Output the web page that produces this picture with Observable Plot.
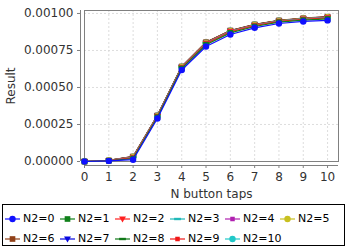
<!DOCTYPE html>
<html>
<head>
<meta charset="utf-8">
<script src="https://cdn.jsdelivr.net/npm/d3@7"></script>
<script src="https://cdn.jsdelivr.net/npm/@observablehq/plot@0.6"></script>
<style>
body { margin: 0; background: #fff; font-family: "DejaVu Sans", sans-serif; }
#legend { position: absolute; left: 2px; top: 204px; width: 343px; height: 42px; border: 1px solid #000; box-sizing: border-box; }
.item { position: absolute; font-size: 11px; color: #000; white-space: nowrap; }
.item svg { position: absolute; left: 0; top: 0; }
.item span { position: absolute; left: 19px; top: 0; line-height: 14px; }
</style>
</head>
<body>
<div id="chart"></div>
<div id="legend"></div>
<script>
const taps = [0, 1, 2, 3, 4, 5, 6, 7, 8, 9, 10];
const seriesNames = ["N2=0", "N2=1", "N2=2", "N2=3", "N2=4", "N2=5", "N2=6", "N2=7", "N2=8", "N2=9", "N2=10"];
const n2_0  = [0, 0.000004, 0.000012, 0.000290, 0.000618, 0.000777, 0.000858, 0.000903, 0.000932, 0.000946, 0.000953];
const n2_1  = [0, 0.000005, 0.000020, 0.000299, 0.000628, 0.000789, 0.000869, 0.000912, 0.000941, 0.000955, 0.000963];
const n2_2  = [0, 0.000006, 0.000026, 0.000304, 0.000634, 0.000796, 0.000876, 0.000918, 0.000946, 0.000961, 0.000970];
const n2_3  = [0, 0.000006, 0.000028, 0.000306, 0.000636, 0.000798, 0.000878, 0.000920, 0.000948, 0.000963, 0.000972];
const n2_4  = [0, 0.000006, 0.000029, 0.000307, 0.000637, 0.000800, 0.000880, 0.000921, 0.000949, 0.000964, 0.000973];
const n2_5  = [0, 0.000007, 0.000030, 0.000308, 0.000638, 0.000801, 0.000881, 0.000922, 0.000950, 0.000965, 0.000974];
const n2_6  = [0, 0.000007, 0.000034, 0.000311, 0.000642, 0.000806, 0.000885, 0.000926, 0.000953, 0.000968, 0.000978];
const n2_7  = [0, 0.000007, 0.000031, 0.000309, 0.000639, 0.000802, 0.000882, 0.000923, 0.000951, 0.000966, 0.000975];
const n2_8  = [0, 0.000007, 0.000032, 0.000310, 0.000640, 0.000803, 0.000883, 0.000924, 0.000951, 0.000966, 0.000976];
const n2_9  = [0, 0.000007, 0.000033, 0.000310, 0.000641, 0.000805, 0.000884, 0.000925, 0.000952, 0.000967, 0.000977];
const n2_10 = [0, 0.000007, 0.000033, 0.000311, 0.000641, 0.000805, 0.000884, 0.000925, 0.000952, 0.000967, 0.000977];
const yTicks = [0, 0.00025, 0.0005, 0.00075, 0.001];

const seriesValues = [n2_0, n2_1, n2_2, n2_3, n2_4, n2_5, n2_6, n2_7, n2_8, n2_9, n2_10];
const colors = ["#1010ff", "#10801a", "#ff2020", "#20b8b8", "#b020b0", "#c8c020", "#904018", "#0808e0", "#107818", "#f01818", "#20c8c8"];

// custom marker shapes
const triDown = { draw(ctx, size) { const r = Math.sqrt(size) * 0.62; ctx.moveTo(-r, -r * 0.7); ctx.lineTo(r, -r * 0.7); ctx.lineTo(0, r); ctx.closePath(); } };
const hbar = { draw(ctx, size) { const r = Math.sqrt(size) * 0.6; ctx.rect(-r, -r * 0.35, 2 * r, r * 0.7); } };
const smallSq = { draw(ctx, size) { const r = Math.sqrt(size) * 0.4; ctx.rect(-r, -r, 2 * r, 2 * r); } };
const shapeList = [d3.symbolCircle, d3.symbolSquare, triDown, hbar, smallSq];

const data = [];
seriesValues.forEach((vals, i) => {
  vals.forEach((v, j) => data.push({ s: i, name: seriesNames[i], x: taps[j], y: v }));
});

const marks = [
  Plot.gridX(taps, { stroke: "#d4d4d4", strokeOpacity: 1, strokeWidth: 0.8, strokeDasharray: "2,2" }),
  Plot.gridY(yTicks, { stroke: "#d4d4d4", strokeOpacity: 1, strokeWidth: 0.8, strokeDasharray: "2,2" }),
  Plot.frame({ stroke: "#808080" }),
  Plot.ruleX([0], { dx: -4, stroke: "#808080" }),
  Plot.ruleY([0], { dy: 4, stroke: "#808080" }),
  Plot.axisY({ ticks: yTicks, tickFormat: d3.format(".5f"), tickSize: 3, tickPadding: 4, dx: -4, label: null, fontSize: 12, color: "#333", stroke: "#808080" }),
  Plot.axisX({ ticks: taps, tickFormat: d3.format("d"), tickSize: 3, tickPadding: 4, dy: 4, label: null, fontSize: 12, color: "#333", stroke: "#808080" }),
  Plot.text(["Result"], { frameAnchor: "left", dx: -73, rotate: -90, textAnchor: "middle", lineAnchor: "middle", fontSize: 12, fill: "#333" }),
  Plot.text(["N button taps"], { frameAnchor: "bottom", dy: 33, textAnchor: "middle", lineAnchor: "middle", fontSize: 12, fill: "#333" })
];
for (let i = seriesValues.length - 1; i >= 0; i--) {
  const d = data.filter(r => r.s === i);
  marks.push(Plot.line(d, { x: "x", y: "y", stroke: colors[i], strokeWidth: 1.2 }));
  marks.push(Plot.dot(d, { x: "x", y: "y", fill: colors[i], stroke: "none", r: 3.2, symbol: () => shapeList[i % 5] }));
}

const chart = Plot.plot({
  width: 350,
  height: 200,
  marginLeft: 84,
  marginRight: 12,
  marginTop: 10,
  marginBottom: 39,
  style: { fontFamily: "DejaVu Sans, sans-serif", background: "#fff", overflow: "visible" },
  x: { domain: [0, 10.45] },
  y: { domain: [0, 0.00102] },
  marks
});
document.getElementById("chart").appendChild(chart);

// legend
const legend = document.getElementById("legend");
seriesNames.forEach((name, i) => {
  const col = i % 6, row = Math.floor(i / 6);
  const item = document.createElement("div");
  item.className = "item";
  item.style.left = (1 + col * 55) + "px";
  item.style.top = (7 + row * 20) + "px";
  const sym = d3.symbol(shapeList[i % 5], 32)();
  item.innerHTML = `<svg width="18" height="14"><line x1="1" x2="16" y1="7" y2="7" stroke="${colors[i]}" stroke-width="1.2"/><path d="${sym}" transform="translate(8.5,7)" fill="${colors[i]}"/></svg><span>${name}</span>`;
  legend.appendChild(item);
});
</script>
</body>
</html>
